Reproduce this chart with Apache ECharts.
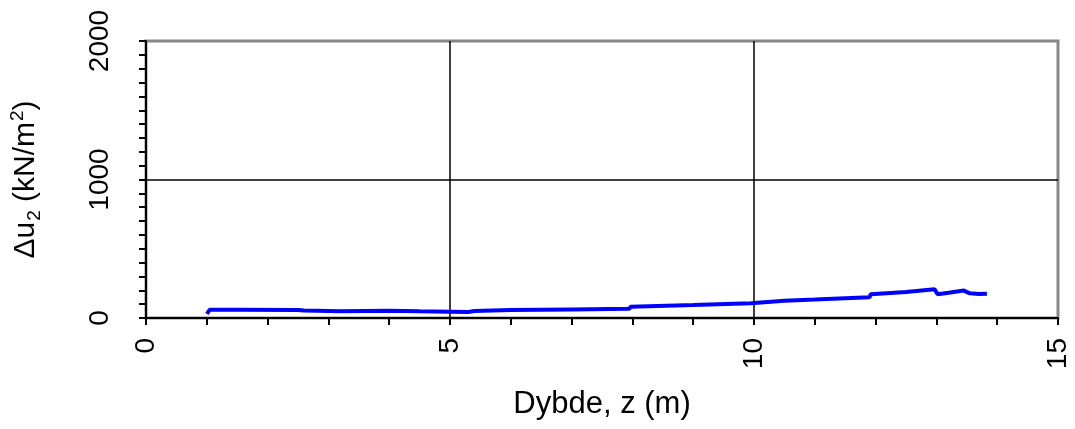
<!DOCTYPE html>
<html>
<head>
<meta charset="utf-8">
<script src="https://cdn.jsdelivr.net/npm/echarts@6/dist/echarts.min.js"></script>
<style>html,body{margin:0;padding:0;background:#fff}#c{width:1075px;height:429px}</style>
</head>
<body>
<div id="c"></div>
<script>
const depth = [1.0, 1.05, 1.5, 2.5, 2.6, 3.2, 4.0, 4.5, 5.0, 5.3, 5.4, 6.0, 7.0, 7.95, 7.97, 9.0, 9.95, 9.97, 10.5, 11.0, 11.9, 11.92, 12.5, 12.97, 13.02, 13.2, 13.45, 13.55, 13.7, 13.83];
const du2 = [30, 60, 60, 58, 54, 48, 52, 48, 46, 44, 50, 57, 62, 66, 82, 94, 106, 118, 125, 133, 149, 171, 188, 207, 172, 182, 198, 178, 173, 175];
const xName = 'Dybde, z (m)';
const yName = '{n|Δu}{sub|2}{n| (kN/m}{sup|2}{n|)}';

const chart = echarts.init(document.getElementById('c'), null, {renderer: 'canvas'});
const font = 'Liberation Sans, Arial, sans-serif';
chart.setOption({
  animation: false,
  backgroundColor: '#fff',
  grid: {left: 146, right: 17, top: 41, bottom: 111, outerBoundsMode: 'none', containLabel: false,
         show: true, borderColor: '#888', borderWidth: 3, backgroundColor: 'transparent'},
  xAxis: {
    type: 'value', min: 0, max: 15, interval: 5,
    name: xName, nameLocation: 'middle', nameGap: 71,
    nameTextStyle: {fontSize: 31, color: '#000', fontFamily: font},
    axisLine: {show: true, onZero: false, lineStyle: {color: '#000', width: 2}},
    axisTick: {show: true, inside: false, length: 7, lineStyle: {color: '#000', width: 2}},
    minorTick: {show: true, splitNumber: 5, length: 7, lineStyle: {color: '#000', width: 2}},
    axisLabel: {rotate: 90, fontSize: 28, color: '#000', fontFamily: font, margin: 20, formatter: v => String(v)},
    splitLine: {show: true, showMinLine: false, showMaxLine: false, lineStyle: {color: '#000', width: 1.5}}
  },
  yAxis: {
    type: 'value', min: 0, max: 2000, interval: 1000,
    name: yName, nameLocation: 'middle', nameGap: 100, nameRotate: 90,
    nameTextStyle: {
      color: '#000', fontFamily: font, fontSize: 30,
      rich: {
        n: {fontSize: 30, color: '#000', fontFamily: font, lineHeight: 40, verticalAlign: 'middle'},
        sub: {fontSize: 19, color: '#000', fontFamily: font, lineHeight: 40, verticalAlign: 'bottom', padding: [0, 0, 2, 1]},
        sup: {fontSize: 19, color: '#000', fontFamily: font, lineHeight: 40, verticalAlign: 'top', padding: [2, 0, 0, 1]}
      }
    },
    axisLine: {show: true, onZero: false, lineStyle: {color: '#000', width: 2}},
    axisTick: {show: true, inside: false, length: 7, lineStyle: {color: '#000', width: 2}},
    minorTick: {show: true, splitNumber: 10, length: 7, lineStyle: {color: '#000', width: 2}},
    axisLabel: {rotate: 90, fontSize: 28, color: '#000', fontFamily: font, margin: 32, formatter: v => String(v)},
    splitLine: {show: true, showMinLine: false, showMaxLine: false, lineStyle: {color: '#000', width: 1.5}}
  },
  series: [{
    type: 'line',
    data: depth.map((d, i) => [d, du2[i]]),
    showSymbol: false,
    lineStyle: {color: '#0000ff', width: 4},
    itemStyle: {color: '#0000ff'}
  }]
});
</script>
</body>
</html>
